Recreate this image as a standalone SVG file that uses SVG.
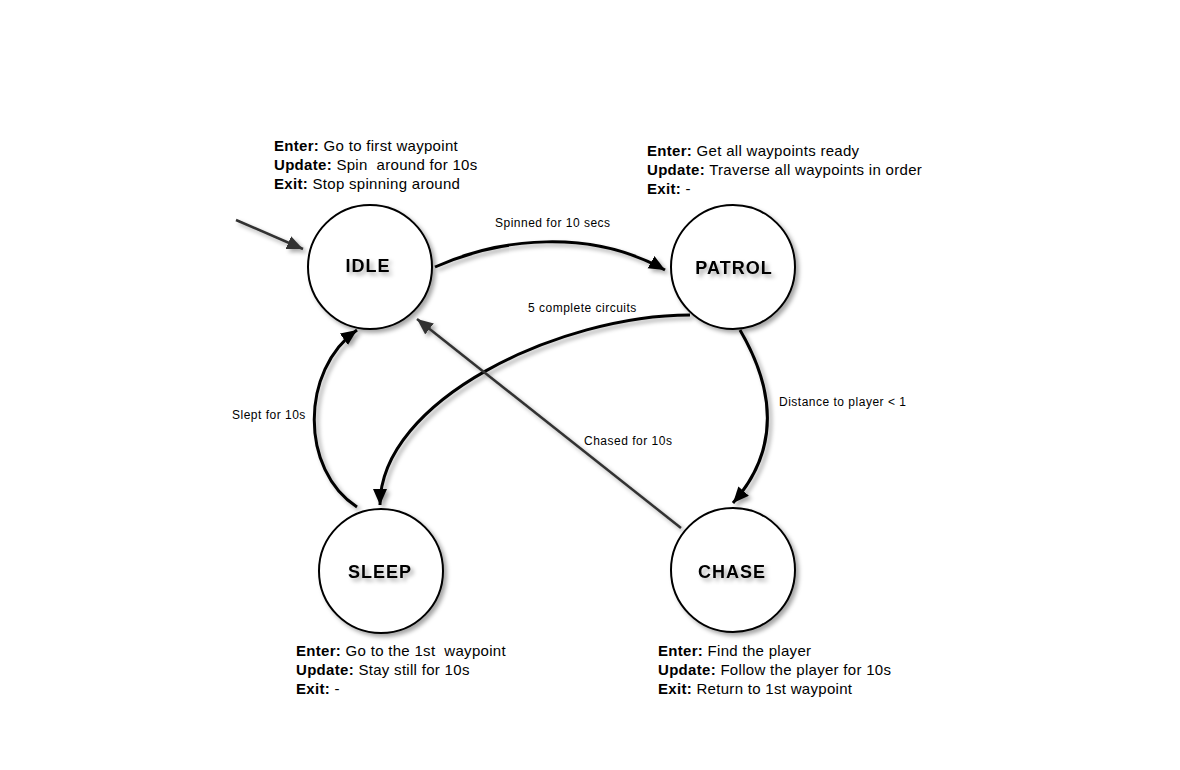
<svg xmlns="http://www.w3.org/2000/svg" width="1180" height="770" viewBox="0 0 1180 770">
<style>
.node{fill:#fff;stroke:#000;stroke-width:2}
.name{font-family:"Liberation Sans",Arial,sans-serif;font-weight:bold;font-size:18px;letter-spacing:1px;fill:#000;text-anchor:middle}
.info{font-family:"Liberation Sans",Arial,sans-serif;font-size:15px;letter-spacing:0.3px;fill:#000;white-space:pre}
.info tspan.b{font-weight:bold}
.lbl{font-family:"Liberation Sans",Arial,sans-serif;font-size:12px;letter-spacing:0.5px;fill:#000}
.e{fill:none;stroke:#000;stroke-width:3}
.eg{fill:none;stroke:#333;stroke-width:2.5}
</style>
<defs>
<filter id="sh" x="-20%" y="-20%" width="150%" height="150%">
<feDropShadow dx="3" dy="3" stdDeviation="2" flood-color="#000" flood-opacity="0.35"/>
</filter>
<marker id="ab" markerUnits="userSpaceOnUse" markerWidth="18" markerHeight="16" refX="16" refY="7" orient="auto">
<path d="M0,0 L16,7 L0,14 Z" fill="#000"/>
</marker>
<marker id="ag" markerUnits="userSpaceOnUse" markerWidth="18" markerHeight="16" refX="16" refY="7" orient="auto">
<path d="M0,0 L16,7 L0,14 Z" fill="#333"/>
</marker>
</defs>
<rect width="1180" height="770" fill="#fff"/>
<g id="connectors" filter="url(#sh)">
<path class="eg" d="M236,220 L303,249" marker-end="url(#ag)"/>
<path class="e" d="M435,267 C 500,238 590,228 665,270" marker-end="url(#ab)"/>
<path class="e" d="M690,315 C 560,315 380,400 380,505" marker-end="url(#ab)"/>
<path class="e" d="M357,507 C 300,470 300,370 357,330" marker-end="url(#ab)"/>
<path class="e" d="M740,330 C 775,390 780,450 733,503" marker-end="url(#ab)"/>
<path class="eg" d="M681,528 L417,319" marker-end="url(#ag)"/>
</g>
<g id="edge-labels">
<text class="lbl" x="495" y="227">Spinned for 10 secs</text>
<text class="lbl" x="528" y="312">5 complete circuits</text>
<text class="lbl" x="232" y="419">Slept for 10s</text>
<text class="lbl" x="584" y="445">Chased for 10s</text>
<text class="lbl" x="779" y="406">Distance to player &lt; 1</text>
</g>
<g id="idle">
<circle class="node" cx="370" cy="267" r="62" filter="url(#sh)"/>
<text class="name" x="368" y="272" filter="url(#sh)">IDLE</text>
<text class="info" x="274" y="151"><tspan class="b">Enter:</tspan> Go to first waypoint</text>
<text class="info" x="274" y="170"><tspan class="b">Update:</tspan> Spin  around for 10s</text>
<text class="info" x="274" y="189"><tspan class="b">Exit:</tspan> Stop spinning around</text>
</g>
<g id="patrol">
<circle class="node" cx="733" cy="267" r="62" filter="url(#sh)"/>
<text class="name" x="734" y="274" filter="url(#sh)">PATROL</text>
<text class="info" x="647" y="156"><tspan class="b">Enter:</tspan> Get all waypoints ready</text>
<text class="info" x="647" y="175"><tspan class="b">Update:</tspan> Traverse all waypoints in order</text>
<text class="info" x="647" y="194"><tspan class="b">Exit:</tspan> -</text>
</g>
<g id="sleep">
<circle class="node" cx="381" cy="571" r="62" filter="url(#sh)"/>
<text class="name" x="380" y="578" filter="url(#sh)">SLEEP</text>
<text class="info" x="296" y="656"><tspan class="b">Enter:</tspan> Go to the 1st  waypoint</text>
<text class="info" x="296" y="675"><tspan class="b">Update:</tspan> Stay still for 10s</text>
<text class="info" x="296" y="694"><tspan class="b">Exit:</tspan> -</text>
</g>
<g id="chase">
<circle class="node" cx="733" cy="570" r="62" filter="url(#sh)"/>
<text class="name" x="732" y="578" filter="url(#sh)">CHASE</text>
<text class="info" x="658" y="656"><tspan class="b">Enter:</tspan> Find the player</text>
<text class="info" x="658" y="675"><tspan class="b">Update:</tspan> Follow the player for 10s</text>
<text class="info" x="658" y="694"><tspan class="b">Exit:</tspan> Return to 1st waypoint</text>
</g>
</svg>
